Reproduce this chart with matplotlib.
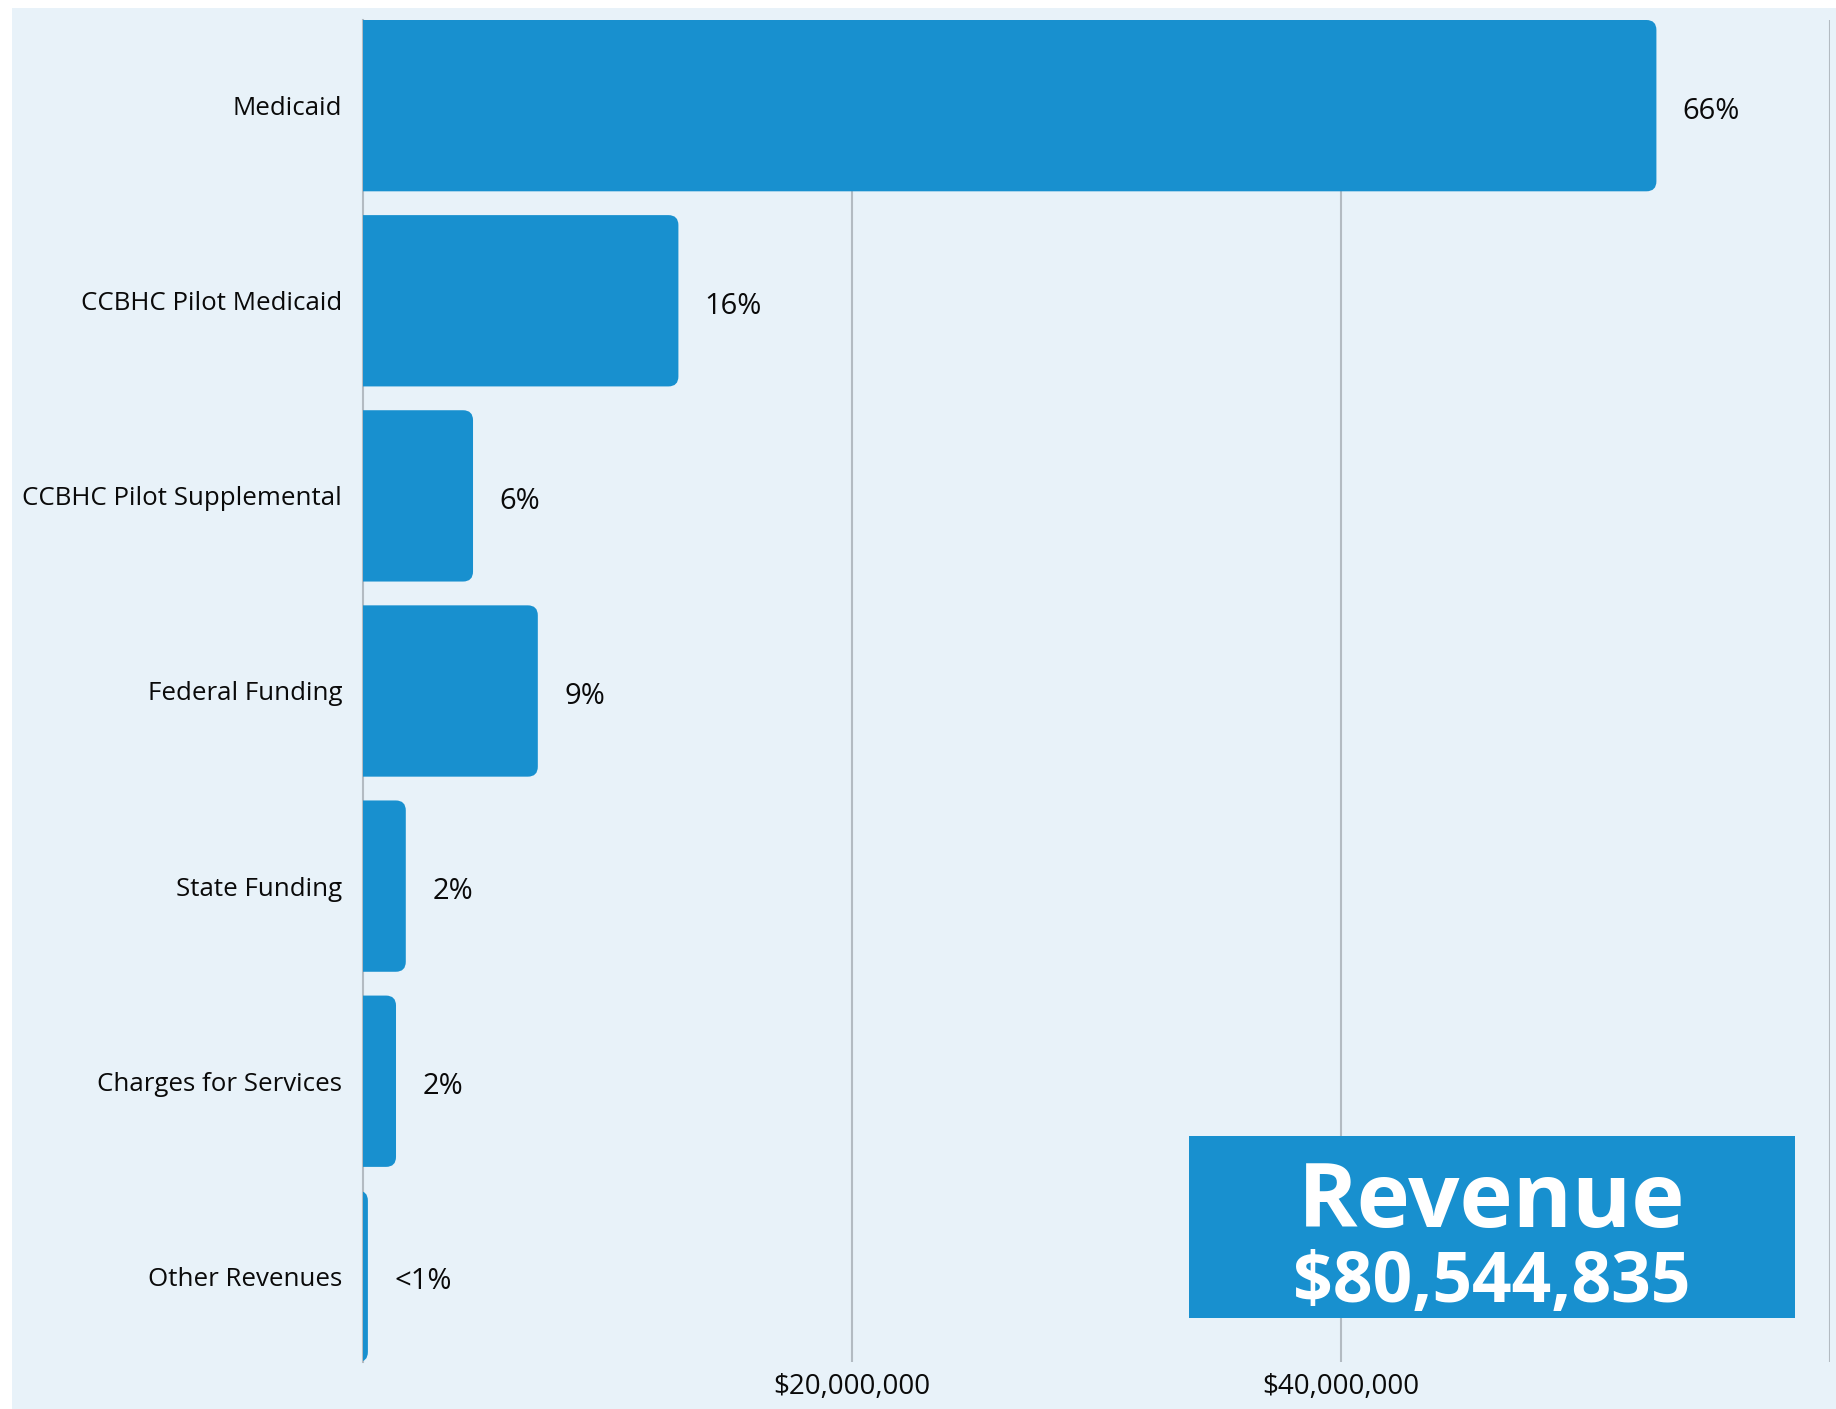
import matplotlib
matplotlib.use("Agg")
import matplotlib.pyplot as plt
from matplotlib.patches import FancyBboxPatch, Rectangle

# данные
categories = [
    "Medicaid",
    "CCBHC Pilot Medicaid",
    "CCBHC Pilot Supplemental",
    "Federal Funding",
    "State Funding",
    "Charges for Services",
    "Other Revenues",
]
amounts = [52.9e6, 12.9e6, 4.5e6, 7.15e6, 1.75e6, 1.35e6, 0.2e6]
pct_labels = ["66%", "16%", "6%", "9%", "2%", "2%", "<1%"]
x_ticks = [20e6, 40e6, 60e6]
x_tick_labels = ["$20,000,000", "$40,000,000", ""]
box_title = "Revenue"
box_total = "$80,544,835"

BLUE = "#1890cf"
PANEL = "#e8f2f9"
GRID = "#b3bbc2"
TEXT = "#0a0a0a"

plt.rcParams["font.family"] = ["Open Sans", "DejaVu Sans"]

W, H = 1836, 1409
fig = plt.figure(figsize=(W / 100, H / 100), dpi=100)
fig.patch.set_facecolor("white")

# светло-голубая подложка
fig.patches.append(Rectangle((12 / W, 0), 1 - 12 / W, 1 - 8 / H,
                             transform=fig.transFigure, facecolor=PANEL,
                             edgecolor="none", zorder=-10))

ax = fig.add_axes([363 / W, 1 - 1362 / H, (1830 - 363) / W, (1362 - 20) / H])
ax.set_facecolor("none")

n = len(categories)
bar_h = 0.878
ax.set_xlim(0, 60e6)
ax.set_ylim(n - 1 + 0.439, -0.439)

# скругление правых углов ~10 px
ux = (ax.transData.transform((1e6, 0))[0] - ax.transData.transform((0, 0))[0]) / 1e6
uy = abs(ax.transData.transform((0, 1))[1] - ax.transData.transform((0, 0))[1])
r_px = 10
r_x = r_px / ux
aspect = ux / uy

bars = ax.barh(range(n), amounts, height=bar_h, color=BLUE, zorder=2)
for b in bars:
    x0, y0 = b.get_x(), b.get_y()
    w, h = b.get_width(), b.get_height()
    b.set_visible(False)
    p = FancyBboxPatch((x0 - 2 * r_x, y0), w + 2 * r_x, h,
                       boxstyle=f"round,pad=0,rounding_size={r_x}",
                       mutation_aspect=aspect,
                       facecolor=BLUE, edgecolor="none", zorder=2)
    ax.add_patch(p)

for i, (v, lab) in enumerate(zip(amounts, pct_labels)):
    ax.annotate(lab, (v, i), xytext=(19, -4), textcoords="offset points",
                ha="left", va="center", fontsize=21, color=TEXT)

ax.set_yticks(range(n))
ax.set_yticklabels(categories, fontsize=18.6, color=TEXT)
ax.set_xticks(x_ticks)
ax.set_xticklabels(x_tick_labels, fontsize=20, color=TEXT)
ax.tick_params(length=0)
ax.tick_params(axis="y", pad=15)
ax.tick_params(axis="x", pad=8)

ax.xaxis.grid(True, color=GRID, linewidth=1.5)
ax.set_axisbelow(True)
for s in ["top", "right", "bottom"]:
    ax.spines[s].set_visible(False)
ax.spines["left"].set_color(GRID)
ax.spines["left"].set_linewidth(1.5)
ax.spines["left"].set_zorder(1)

# плашка с итогом
ax.add_patch(Rectangle((1189 / W, 1 - 1318 / H), 606 / W, 182 / H,
                       transform=fig.transFigure, facecolor=BLUE,
                       edgecolor="none", clip_on=False, zorder=5))
ax.text(1492 / W, 1 - 1227 / H, box_title, transform=fig.transFigure,
        ha="center", va="baseline", fontsize=65, fontweight="bold",
        color="white", zorder=6)
ax.text(1492 / W, 1 - 1302 / H, box_total, transform=fig.transFigure,
        ha="center", va="baseline", fontsize=50, fontweight="bold",
        color="white", zorder=6)

fig.savefig("out.png", dpi=100)
